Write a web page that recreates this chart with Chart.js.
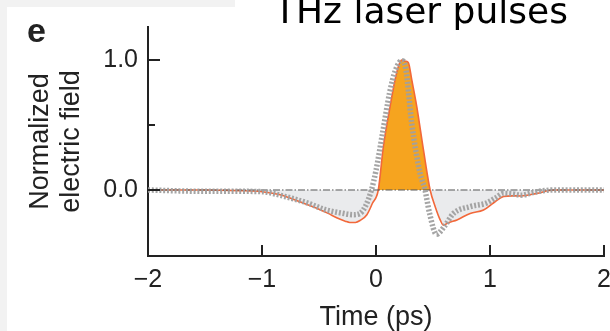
<!DOCTYPE html>
<html>
<head>
<meta charset="utf-8">
<script src="https://cdn.jsdelivr.net/npm/chart.js@4/dist/chart.umd.min.js"></script>
<style>
  html, body { margin: 0; padding: 0; background: #ffffff; }
  #wrap { position: relative; width: 610px; height: 331px; overflow: hidden; background: #ffffff; }
  #c { position: absolute; left: 0; top: 0; }
  .strip { position: absolute; background: #f2f2f2; }
  #title { position: absolute; left: 274px; top: -7px; font-family: "DejaVu Sans", sans-serif; font-size: 36px; line-height: 1; color: #000; white-space: nowrap; }
  #panel { position: absolute; left: 27px; top: 13px; font-family: "Liberation Sans", Arial, sans-serif; font-weight: bold; font-size: 34px; line-height: 1; color: #222; }
</style>
</head>
<body>
<div id="wrap">
  <div class="strip" style="left:0;top:0;width:7px;height:331px;"></div>
  <div class="strip" style="left:0;top:0;width:235px;height:7px;"></div>
  <canvas id="c" width="610" height="331"></canvas>
  <div id="panel">e</div>
  <div id="title">THz laser pulses</div>
</div>
<script>
// ---- data ----
const orangeTime = [-2, -1.5, -1.2, -1.0, -0.85, -0.76, -0.64, -0.52, -0.42, -0.34, -0.27, -0.23, -0.18, -0.14, -0.08, -0.03, 0.02, 0.064, 0.123, 0.167, 0.2, 0.226, 0.26, 0.284, 0.314, 0.358, 0.416, 0.475, 0.52, 0.563, 0.59, 0.64, 0.71, 0.826, 0.943, 1.03, 1.12, 1.2, 1.27, 1.41, 1.56, 1.75, 2.0];
const orangeField = [0, 0, -0.005, -0.013, -0.035, -0.06, -0.1, -0.14, -0.18, -0.215, -0.24, -0.25, -0.25, -0.235, -0.19, -0.1, 0.0, 0.33, 0.64, 0.846, 0.96, 1.0, 0.99, 0.98, 0.846, 0.64, 0.31, 0.0, -0.13, -0.23, -0.27, -0.25, -0.23, -0.18, -0.154, -0.10, -0.05, -0.045, -0.046, -0.026, 0, 0, 0];

const grayTime = [-2, -1.5, -1.2, -1.0, -0.8, -0.6, -0.45, -0.3, -0.2, -0.14, -0.09, -0.04, 0.0, 0.06, 0.12, 0.17, 0.226, 0.26, 0.314, 0.387, 0.43, 0.47, 0.53, 0.6, 0.68, 0.826, 0.97, 1.05, 1.12, 1.2, 1.27, 1.41, 1.56, 2.0];
const grayField = [0, -0.01, -0.01, -0.013, -0.05, -0.1, -0.15, -0.178, -0.19, -0.18, -0.12, 0.0, 0.15, 0.45, 0.75, 0.92, 0.995, 0.94, 0.51, 0.128, 0.0, -0.18, -0.34, -0.28, -0.18, -0.128, -0.10, -0.06, -0.026, -0.03, -0.04, -0.013, 0, 0];

const baselineTime = [-2, 2];
const baselineField = [0, 0];

const xTicks = [-2, -1, 0, 1, 2];
const xTickLabels = ['\u22122', '\u22121', '0', '1', '2'];
const yTicks = [0, 0.5, 1];
const yTickLabels = ['0.0', '', '1.0'];

const xTitle = 'Time (ps)';
const yTitle = ['Normalized', 'electric field'];

// ---- build ----
const pts = (xs, ys) => xs.map((x, i) => ({ x: x, y: ys[i] }));
const FONT = '"Liberation Sans", Arial, sans-serif';

const innerTicks = {
  id: 'innerTicks',
  afterDraw(chart) {
    const ctx = chart.ctx;
    const xs = chart.scales.x, ys = chart.scales.y;
    const a = chart.chartArea;
    ctx.save();
    ctx.strokeStyle = '#222';
    ctx.lineWidth = 2;
    ctx.beginPath();
    xTicks.forEach(v => {
      if (v === xs.min) return;
      const px = xs.getPixelForValue(v);
      ctx.moveTo(px, a.bottom);
      ctx.lineTo(px, a.bottom - 11);
    });
    yTicks.forEach(v => {
      const py = ys.getPixelForValue(v);
      ctx.moveTo(a.left, py);
      ctx.lineTo(a.left + (v === 0.5 ? 7 : 12), py);
    });
    ctx.stroke();
    ctx.restore();
  }
};

new Chart(document.getElementById('c'), {
  type: 'line',
  data: {
    datasets: [
      {
        label: 'measured',
        data: pts(orangeTime, orangeField),
        borderColor: '#f2683a',
        borderWidth: 1.6,
        pointRadius: 0,
        cubicInterpolationMode: 'monotone',
        fill: { target: 'origin', above: '#f6a41f', below: '#eaebed' },
        order: 3
      },
      {
        label: 'zero',
        data: pts(baselineTime, baselineField),
        borderColor: '#555',
        borderWidth: 1,
        borderDash: [7, 2, 1.5, 2],
        pointRadius: 0,
        fill: false,
        order: 2
      },
      {
        label: 'reference',
        data: pts(grayTime, grayField),
        borderColor: 'rgba(160,160,160,0.95)',
        borderWidth: 5.5,
        borderDash: [2, 1.8],
        borderCapStyle: 'butt',
        pointRadius: 0,
        cubicInterpolationMode: 'monotone',
        fill: false,
        order: 1
      }
    ]
  },
  options: {
    responsive: false,
    animation: false,
    events: [],
    layout: { padding: { left: 0, right: 6, top: 27, bottom: 0 } },
    plugins: { legend: { display: false }, tooltip: { enabled: false } },
    scales: {
      x: {
        type: 'linear',
        min: -2, max: 2,
        afterBuildTicks: s => { s.ticks = xTicks.map(v => ({ value: v })); },
        afterFit: s => { s.height = 75; s.paddingLeft = 0; s.paddingRight = 0; },
        grid: { display: false, drawTicks: false },
        border: { display: true, color: '#222', width: 2 },
        ticks: {
          padding: 9,
          color: '#222',
          font: { family: FONT, size: 25 },
          callback: (v) => xTickLabels[xTicks.indexOf(v)]
        },
        title: {
          display: true, text: xTitle, color: '#222',
          font: { family: FONT, size: 27, lineHeight: 1 },
          padding: { top: 0, bottom: 0 }
        }
      },
      y: {
        type: 'linear',
        min: -0.5077, max: 1.2538,
        afterBuildTicks: s => { s.ticks = yTicks.map(v => ({ value: v })); },
        afterFit: s => { s.width = 148; },
        grid: { display: false, drawTicks: false },
        border: { display: true, color: '#222', width: 2 },
        ticks: {
          padding: 10,
          color: '#222',
          font: { family: FONT, size: 25 },
          callback: (v) => yTickLabels[yTicks.indexOf(v)]
        },
        title: {
          display: true, text: yTitle, color: '#222',
          font: { family: FONT, size: 27, lineHeight: 1.15 },
          padding: { top: 25, bottom: 0 }
        }
      }
    }
  },
  plugins: [innerTicks]
});
</script>
</body>
</html>
